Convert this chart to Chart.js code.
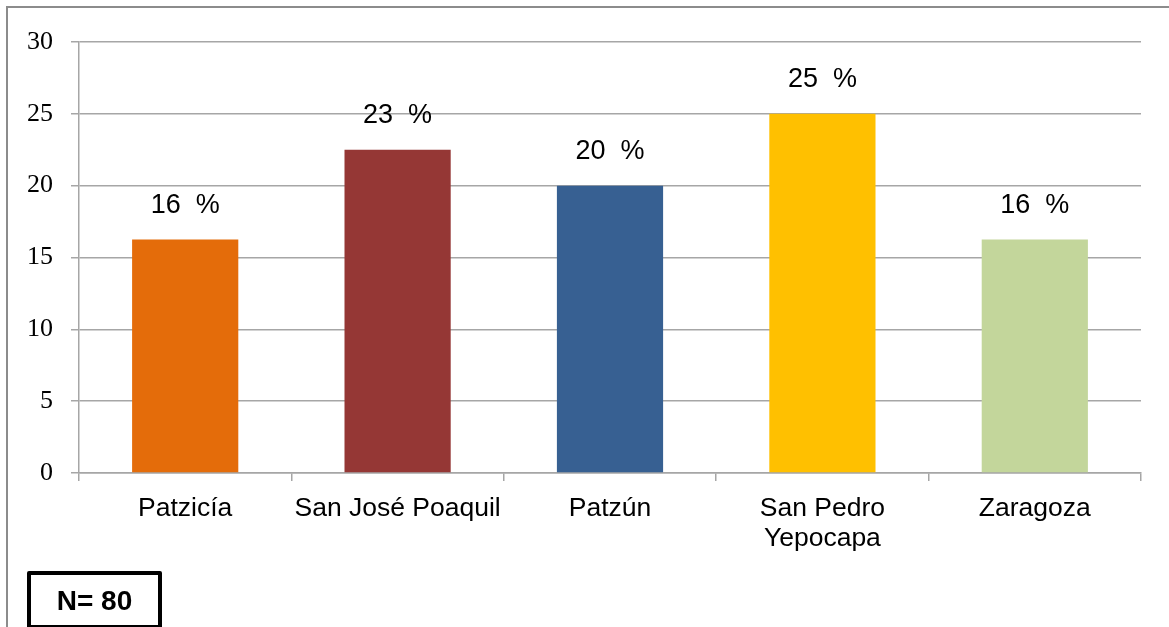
<!DOCTYPE html>
<html>
<head>
<meta charset="utf-8">
<script src="https://cdn.jsdelivr.net/npm/chart.js@4"></script>
<style>
  html, body { margin: 0; padding: 0; background: #fff; overflow: hidden; }
  #wrap { position: relative; width: 1169px; height: 627px; }
  #frame { position: absolute; left: 6px; top: 6px; width: 1300px; height: 800px;
           border: 2px solid #8c8c8c; box-sizing: border-box; }
  #n { position: absolute; left: 27px; top: 571px; width: 135px; height: 58px;
       border: 4px solid #000; box-sizing: border-box; border-radius: 2px;
       font: bold 28px "Liberation Sans", Arial, sans-serif; color: #000;
       display: flex; align-items: center; justify-content: center; padding-top: 2px; }
  canvas { position: absolute; left: 0; top: 0; }
</style>
</head>
<body>
<div id="wrap">
  <div id="frame"></div>
  <canvas id="myChart" width="1169" height="627"></canvas>
  <div id="n">N= 80</div>
</div>
<script>
// municipios
const categories = ['Patzicía', 'San José Poaquil', 'Patzún', ['San Pedro', 'Yepocapa'], 'Zaragoza'];
const values = [16.25, 22.5, 20, 25, 16.25]; // porcentaje
const valueLabels = ['16  %', '23  %', '20  %', '25  %', '16  %'];
const barColors = ['#E46C0A', '#953735', '#376092', '#FFC000', '#C3D69B'];
const yTicks = [0, 5, 10, 15, 20, 25, 30];

// etiquetas arriba de las barras
const topLabels = {
    id: 'topLabels',
    afterDatasetsDraw(chart) {
        const ctx = chart.ctx;
        const meta = chart.getDatasetMeta(0);
        ctx.save();
        ctx.font = '27px "Liberation Sans", Arial, sans-serif';
        ctx.fillStyle = '#000';
        ctx.textAlign = 'center';
        ctx.textBaseline = 'middle';
        meta.data.forEach((bar, i) => {
            ctx.fillText(valueLabels[i], bar.x, bar.y - 34);
        });
        ctx.restore();
    }
};

const ctx = document.getElementById('myChart').getContext('2d');
const myChart = new Chart(ctx, {
    type: 'bar',
    data: {
        labels: categories,
        datasets: [{
            data: values,
            backgroundColor: barColors,
            borderWidth: 0,
            barPercentage: 0.5,
            categoryPercentage: 1
        }]
    },
    options: {
        responsive: false,
        animation: false,
        layout: { padding: { top: 42, right: 28, left: 0, bottom: 0 } },
        plugins: {
            legend: { display: false },
            tooltip: { enabled: false }
        },
        scales: {
            y: {
                min: 0,
                max: 30,
                afterFit(scale) { scale.width = 79; },
                afterBuildTicks(scale) { scale.ticks = yTicks.map(v => ({ value: v })); },
                ticks: {
                    padding: 18,
                    color: '#000',
                    font: { family: '"Liberation Serif", "Times New Roman", serif', size: 26 }
                },
                grid: { color: '#a6a6a6', lineWidth: 1.5, tickLength: 8 },
                border: { color: '#a6a6a6', width: 1.5 }
            },
            x: {
                afterFit(scale) { scale.height = 154; },
                ticks: {
                    padding: 13,
                    color: '#000',
                    maxRotation: 0,
                    autoSkip: false,
                    font: { family: '"Liberation Sans", Arial, sans-serif', size: 26.5, lineHeight: 1.13 }
                },
                grid: { drawOnChartArea: false, color: '#a6a6a6', lineWidth: 1.5, tickLength: 8 },
                border: { color: '#a6a6a6', width: 1.5 }
            }
        }
    },
    plugins: [topLabels]
});
</script>
</body>
</html>
